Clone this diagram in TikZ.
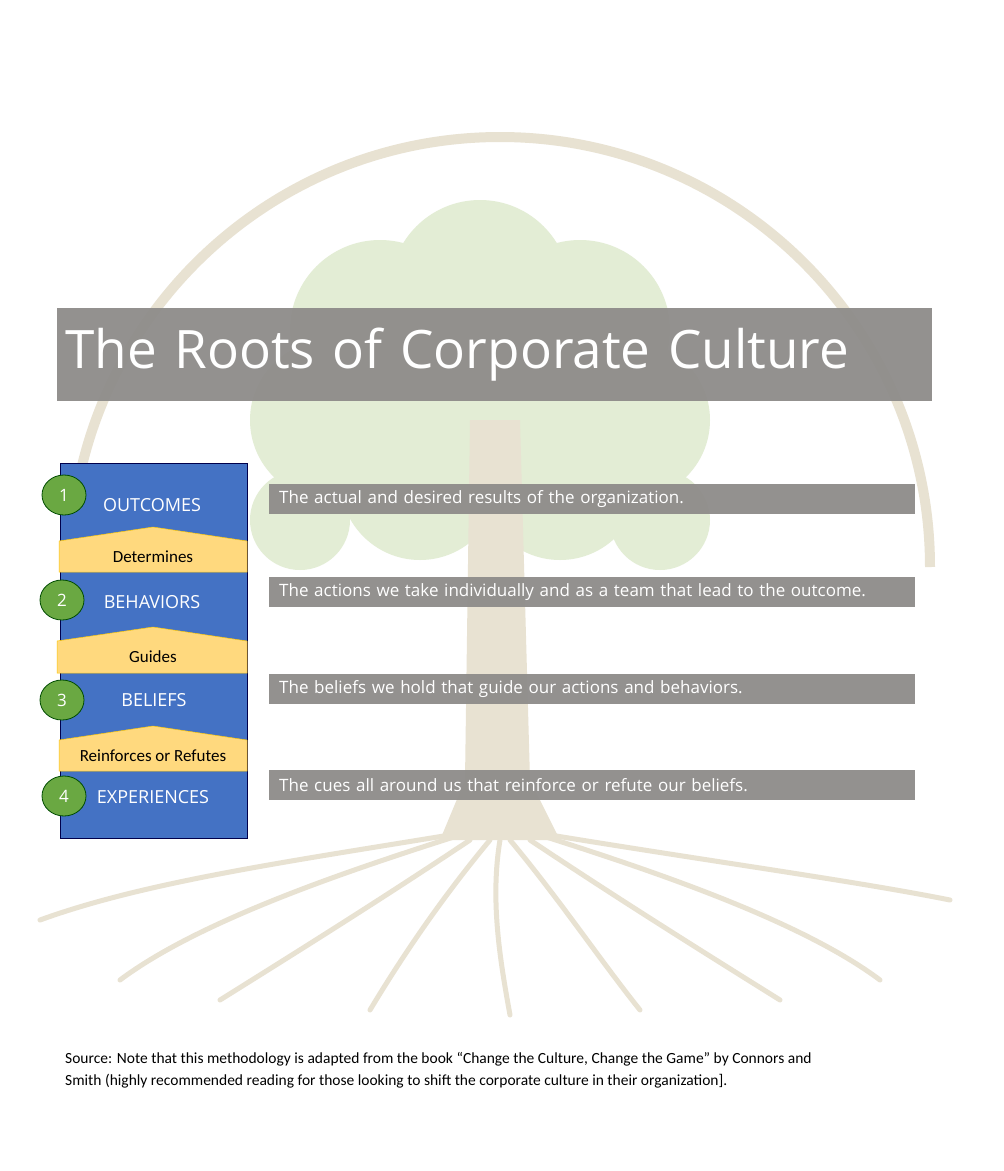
\documentclass[tikz,border=0pt]{standalone}
\usepackage{fontspec}
\usetikzlibrary{shapes.geometric}
\setmainfont{Open Sans}
\newfontfamily\calfont{Carlito}
\definecolor{pblue}{HTML}{4472C4}
\definecolor{pgreen}{HTML}{6AA842}
\definecolor{pyel}{HTML}{FFD97E}
\definecolor{pgray}{HTML}{8E8C8A}
\definecolor{ptree}{HTML}{E8E2D2}
\definecolor{pleaf}{HTML}{E3EDD5}
\begin{document}
\begin{tikzpicture}[x=1pt,y=-1pt,
  bar/.style={fill=pgray,fill opacity=0.95,text opacity=1,text=white,anchor=north west,minimum height=30pt,inner sep=0pt,minimum width=646pt,text width=640pt,align=left,font=\fontsize{17}{20}\selectfont},
  num/.style={ellipse,fill=pgreen,draw=green!30!black,line width=0.8pt,minimum width=44pt,minimum height=40pt,inner sep=0pt,text=white,font=\fontsize{17}{20}\selectfont},
  lbl/.style={text=white,font=\fontsize{18}{20}\selectfont},
  chev/.style={fill=pyel,draw=yellow!60!orange,line width=0.5pt},
  chevt/.style={font=\calfont\fontsize{17}{20}\selectfont,text=black},
  root/.style={draw=ptree,line width=5pt,line cap=round}]
\useasboundingbox (0,0) rectangle (1004,1171);
\fill[white] (0,0) rectangle (1004,1171);
% background arc
\draw[ptree,line width=10pt] (70,567) arc[start angle=180,end angle=360,radius=430];
% canopy
\foreach \x/\y/\r in {480/290/90,380/330/90,580/330/90,330/420/80,630/420/80,480/380/110,420/480/80,560/480/80,300/520/50,660/520/50}
  \fill[pleaf] (\x,\y) circle[radius=\r];
% trunk
\fill[ptree] (470,420) -- (520,420) -- (530,780) -- (560,840) -- (440,840) -- (465,780) -- cycle;
% roots
\draw[root] (480,830) .. controls (300,860) and (150,880) .. (40,920);
\draw[root] (520,830) .. controls (700,860) and (850,880) .. (950,900);
\draw[root] (470,840) .. controls (380,900) and (300,950) .. (220,1000);
\draw[root] (530,840) .. controls (620,900) and (700,950) .. (780,1000);
\draw[root] (500,840) .. controls (490,900) and (500,960) .. (510,1015);
\draw[root] (460,835) .. controls (350,870) and (200,920) .. (120,980);
\draw[root] (540,835) .. controls (650,870) and (800,920) .. (880,980);
\draw[root] (490,840) .. controls (440,900) and (400,960) .. (370,1010);
\draw[root] (510,840) .. controls (560,900) and (600,960) .. (640,1010);
% title
\node[fill=pgray,fill opacity=0.95,text opacity=1,text=white,anchor=north west,minimum width=875pt,minimum height=93pt,inner sep=0pt,text width=875pt,align=left,font=\fontsize{53}{60}\selectfont] (title) at (57,308) {\hspace*{8pt}The Roots of Corporate Culture};
% panel
\node[fill=pblue,draw=blue!30!black,line width=0.8pt,anchor=north west,minimum width=187pt,minimum height=375pt,inner sep=0pt] (panel) at (60,463) {};
\fill[chev] (59,541) -- (153,527) -- (247,541) -- (247,572) -- (59,572) -- cycle;
\fill[chev] (57,641) -- (153,627) -- (247,641) -- (247,673) -- (57,673) -- cycle;
\fill[chev] (59,740) -- (153,726) -- (247,740) -- (247,771) -- (59,771) -- cycle;
\node[chevt] (c1) at (153,557) {Determines};
\node[chevt] (c2) at (153,657) {Guides};
\node[chevt] (c3) at (153,756) {Reinforces or Refutes};
\node[lbl] (l1) at (152,505) {OUTCOMES};
\node[lbl] (l2) at (152,602) {BEHAVIORS};
\node[lbl] (l3) at (154,700) {BELIEFS};
\node[lbl] (l4) at (153,797) {EXPERIENCES};
\node[num] (n1) at (64,495) {1};
\node[num] (n2) at (62,600) {2};
\node[num] (n3) at (62,700) {3};
\node[num] (n4) at (64,796) {4};
% bars
\node[bar] (b1) at (269,484) {\hspace*{7pt}The actual and desired results of the organization.};
\node[bar] (b2) at (269,577) {\hspace*{7pt}The actions we take individually and as a team that lead to the outcome.};
\node[bar] (b3) at (269,674) {\hspace*{7pt}The beliefs we hold that guide our actions and behaviors.};
\node[bar] (b4) at (269,770) {\hspace*{7pt}The cues all around us that reinforce or refute our beliefs.};
% source
\node[anchor=north west,align=left,inner sep=0pt,font=\calfont\fontsize{15.5}{22}\selectfont] (src) at (65,1052) {Source: Note that this methodology is adapted from the book “Change the Culture, Change the Game” by Connors and\\ Smith (highly recommended reading for those looking to shift the corporate culture in their organization].};
\end{tikzpicture}
\end{document}
